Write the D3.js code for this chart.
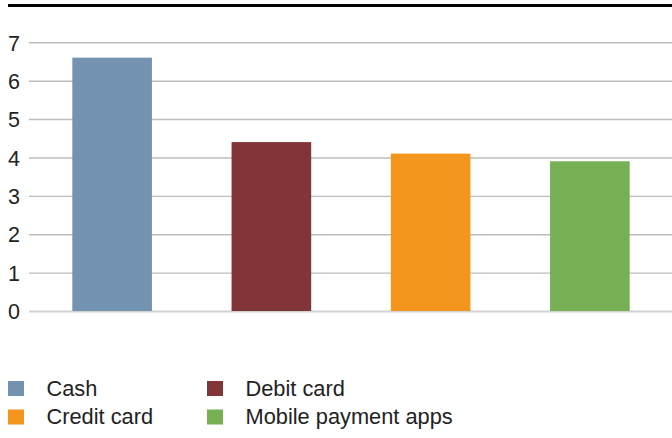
<!DOCTYPE html>
<html>
<head>
<meta charset="utf-8">
<script src="https://cdn.jsdelivr.net/npm/d3@7"></script>
<style>
html,body{margin:0;padding:0;background:#fff;}
svg{display:block;}
text{font-family:"Liberation Sans",Arial,sans-serif;fill:#222;}
</style>
</head>
<body>
<svg id="chart" width="672" height="438"></svg>
<script>
const categories = ["Cash", "Debit card", "Credit card", "Mobile payment apps"];
const values = [6.6, 4.4, 4.1, 3.9];
const colors = ["#7393b0", "#823538", "#f4961e", "#77af55"];
const yTicks = [0, 1, 2, 3, 4, 5, 6, 7];

const svg = d3.select("#chart");
const W = 672, H = 438;

// top rule
svg.append("rect").attr("x", 8).attr("y", 4).attr("width", W - 8).attr("height", 3).attr("fill", "#000");

const x = d3.scaleBand().domain(categories).range([32.5, 669.5]).paddingInner(0.5).paddingOuter(0.25);
const y = d3.scaleLinear().domain([0, 7]).range([311, 42.3]);

// gridlines
const yAxis = d3.axisLeft(y).tickValues(yTicks).tickSize(-(W - 29)).tickFormat(d3.format("d"));
const g = svg.append("g").attr("transform", "translate(29,0)").call(yAxis);
g.select(".domain").remove();
g.selectAll(".tick line")
  .attr("stroke", d => d === 0 ? "#d2d2d2" : "#bdbdbd")
  .attr("stroke-width", d => d === 0 ? 2.2 : 1.4);
g.selectAll(".tick text")
  .attr("x", -21).attr("text-anchor", "start")
  .style("font-size", "21.5px").attr("fill", "#222").attr("dy", "0.36em");

// bars
svg.append("g").selectAll("rect").data(categories).join("rect")
  .attr("x", d => x(d))
  .attr("width", x.bandwidth())
  .attr("y", (d, i) => y(values[i]))
  .attr("height", (d, i) => y(0) - y(values[i]))
  .attr("fill", (d, i) => colors[i]);

// legend
const legendCols = [8, 207];
const legendRows = [381, 409.5];
const leg = svg.append("g").selectAll("g").data(categories).join("g")
  .attr("transform", (d, i) => `translate(${legendCols[i % 2]},${legendRows[Math.floor(i / 2)]})`);
leg.append("rect").attr("width", 16).attr("height", 15).attr("fill", (d, i) => colors[i]);
leg.append("text").attr("x", 38.5).attr("y", 14.5).style("font-size", "21.8px").text(d => d);
</script>
</body>
</html>
